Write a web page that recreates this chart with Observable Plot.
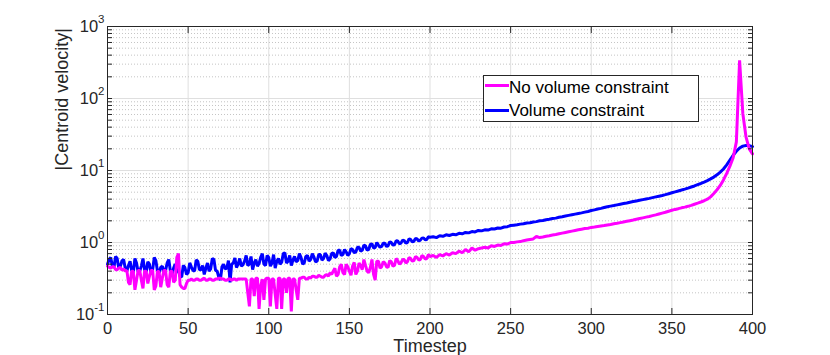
<!DOCTYPE html>
<html>
<head>
<meta charset="utf-8">
<script src="https://cdn.jsdelivr.net/npm/d3@7"></script>
<script src="https://cdn.jsdelivr.net/npm/@observablehq/plot@0.6"></script>
<style>
  body { margin: 0; background: #fff; }
  #wrap { position: relative; width: 830px; height: 355px; font-family: "Liberation Sans", Arial, sans-serif; color: #262626; }
  .legend { position: absolute; left: 483px; top: 75px; width: 214px; height: 45px; border: 1px solid #262626; background: #fff; }
  .swatch { position: absolute; left: 1px; width: 24px; height: 3px; }
  .lbl { position: absolute; left: 25px; font-size: 17px; line-height: 17px; white-space: nowrap; color: #000; }
</style>
</head>
<body>
<div id="wrap"></div>
<script>
// ---- data ----
// timesteps: every step up to 200, every second step afterwards
const timestep = d3.range(0, 201, 1).concat(d3.range(202, 401, 2));

const noVolumeConstraint = [
  // t 0-200 (step 1)
  0.47, 0.45, 0.44, 0.46, 0.46, 0.42, 0.42, 0.44, 0.45, 0.41,
  0.43, 0.40, 0.41, 0.28, 0.26, 0.40, 0.40, 0.22, 0.30, 0.41,
  0.41, 0.30, 0.23, 0.40, 0.40, 0.27, 0.34, 0.41, 0.41, 0.22,
  0.25, 0.40, 0.39, 0.24, 0.32, 0.41, 0.41, 0.26, 0.24, 0.40,
  0.40, 0.28, 0.30, 0.62, 0.70, 0.26, 0.24, 0.23, 0.23, 0.27,
  0.30, 0.30, 0.31, 0.30, 0.30, 0.31, 0.31, 0.30, 0.30, 0.31,
  0.32, 0.30, 0.30, 0.31, 0.31, 0.30, 0.30, 0.31, 0.31, 0.32,
  0.32, 0.31, 0.31, 0.30, 0.30, 0.31, 0.31, 0.30, 0.31, 0.31,
  0.30, 0.31, 0.31, 0.31, 0.31, 0.31, 0.31, 0.20, 0.13, 0.31,
  0.31, 0.18, 0.32, 0.32, 0.12, 0.25, 0.31, 0.16, 0.31, 0.32,
  0.32, 0.13, 0.31, 0.31, 0.19, 0.12, 0.32, 0.32, 0.12, 0.31,
  0.31, 0.20, 0.32, 0.32, 0.11, 0.31, 0.31, 0.22, 0.16, 0.32,
  0.32, 0.33, 0.33, 0.31, 0.31, 0.33, 0.32, 0.34, 0.34, 0.33,
  0.33, 0.35, 0.34, 0.33, 0.33, 0.35, 0.36, 0.34, 0.38, 0.36,
  0.40, 0.44, 0.34, 0.36, 0.46, 0.50, 0.38, 0.36, 0.50, 0.46,
  0.40, 0.35, 0.47, 0.53, 0.36, 0.40, 0.52, 0.48, 0.42, 0.58,
  0.48, 0.40, 0.38, 0.45, 0.58, 0.36, 0.30, 0.55, 0.55, 0.44,
  0.46, 0.54, 0.52, 0.46, 0.45, 0.56, 0.54, 0.47, 0.48, 0.60,
  0.56, 0.50, 0.52, 0.58, 0.58, 0.52, 0.54, 0.62, 0.60, 0.55,
  0.56, 0.64, 0.62, 0.57, 0.58, 0.66, 0.64, 0.59, 0.60, 0.68,
  0.64,
  // t 202-400 (step 2)
  0.66, 0.62, 0.68, 0.65, 0.70, 0.67, 0.72, 0.70, 0.76, 0.72, 0.80, 0.74, 0.84, 0.78, 0.82,
  0.84, 0.86, 0.84, 0.90, 0.88, 0.92, 0.91, 0.96, 0.95, 1.00,
  1.00, 1.02, 1.03, 1.06, 1.08, 1.10, 1.12, 1.22, 1.17, 1.19, 1.22, 1.24, 1.27, 1.29, 1.32, 1.35, 1.38, 1.41, 1.44, 1.47, 1.50, 1.53, 1.56, 1.58, 1.62,
  1.64, 1.67, 1.70, 1.72, 1.75, 1.78, 1.82, 1.85, 1.89, 1.93, 1.97, 2.01, 2.05, 2.10, 2.15, 2.20, 2.25, 2.30, 2.36, 2.42, 2.49, 2.56, 2.63, 2.72, 2.80,
  2.88, 2.95, 3.03, 3.10, 3.18, 3.28, 3.40, 3.52, 3.65, 3.80, 4.00, 4.30, 4.80, 5.40, 6.20, 7.40, 9.10, 11.5, 15.0, 25.0, 340, 62, 29, 20, 17
];

const volumeConstraint = [
  // t 0-200 (step 1)
  0.50, 0.58, 0.62, 0.47, 0.45, 0.64, 0.60, 0.44, 0.47, 0.56,
  0.58, 0.44, 0.40, 0.48, 0.55, 0.41, 0.38, 0.60, 0.52, 0.39,
  0.40, 0.47, 0.60, 0.42, 0.39, 0.54, 0.50, 0.37, 0.42, 0.62,
  0.56, 0.40, 0.38, 0.45, 0.47, 0.39, 0.41, 0.52, 0.58, 0.40,
  0.36, 0.44, 0.50, 0.40, 0.40, 0.34, 0.33, 0.48, 0.45, 0.36,
  0.38, 0.52, 0.46, 0.41, 0.40, 0.57, 0.55, 0.42, 0.42, 0.48,
  0.36, 0.44, 0.52, 0.40, 0.43, 0.60, 0.58, 0.41, 0.40, 0.33,
  0.30, 0.46, 0.50, 0.43, 0.44, 0.56, 0.28, 0.50, 0.52, 0.61,
  0.45, 0.50, 0.60, 0.47, 0.49, 0.55, 0.66, 0.48, 0.50, 0.64,
  0.42, 0.52, 0.58, 0.47, 0.51, 0.62, 0.70, 0.50, 0.48, 0.66,
  0.62, 0.47, 0.52, 0.68, 0.44, 0.55, 0.60, 0.50, 0.53, 0.70,
  0.72, 0.52, 0.55, 0.66, 0.48, 0.57, 0.64, 0.54, 0.56, 0.70,
  0.62, 0.50, 0.52, 0.64, 0.66, 0.55, 0.58, 0.70, 0.63, 0.54,
  0.55, 0.68, 0.68, 0.57, 0.60, 0.71, 0.66, 0.56, 0.59, 0.70,
  0.72, 0.62, 0.64, 0.78, 0.78, 0.66, 0.68, 0.80, 0.74, 0.66,
  0.70, 0.82, 0.80, 0.72, 0.74, 0.86, 0.86, 0.76, 0.78, 0.92,
  0.90, 0.78, 0.80, 0.94, 0.96, 0.84, 0.85, 1.00, 0.92, 0.86,
  0.88, 0.98, 0.98, 0.88, 0.90, 1.02, 1.00, 0.92, 0.93, 1.06,
  1.05, 0.96, 0.98, 1.08, 1.06, 0.98, 1.00, 1.12, 1.10, 1.02,
  1.04, 1.14, 1.12, 1.05, 1.08, 1.15, 1.16, 1.09, 1.10, 1.20,
  1.18,
  // t 202-400 (step 2)
  1.20, 1.17, 1.24, 1.22, 1.28, 1.25, 1.30, 1.28, 1.34, 1.32, 1.38, 1.36, 1.42, 1.40, 1.47, 1.45, 1.50, 1.49, 1.55, 1.54, 1.59, 1.58, 1.64, 1.66, 1.72,
  1.74, 1.76, 1.80, 1.82, 1.87, 1.88, 1.93, 1.95, 2.00, 2.02, 2.07, 2.10, 2.15, 2.18, 2.24, 2.28, 2.33, 2.38, 2.43, 2.48, 2.53, 2.58, 2.64, 2.70, 2.78,
  2.84, 2.92, 2.98, 3.06, 3.13, 3.20, 3.26, 3.33, 3.40, 3.47, 3.54, 3.62, 3.70, 3.78, 3.86, 3.94, 4.02, 4.10, 4.20, 4.30, 4.40, 4.50, 4.62, 4.75, 4.90,
  5.05, 5.20, 5.35, 5.52, 5.70, 5.90, 6.10, 6.35, 6.60, 6.90, 7.25, 7.65, 8.10, 8.70, 9.50, 10.5, 12.0, 14.0, 16.3, 18.5, 20.5, 21.8, 22.3, 22.2, 21.5
];

const seriesNames = ["No volume constraint", "Volume constraint"];
const seriesColors = ["#ff00ff", "#0000ff"];
const xTicks = [0, 50, 100, 150, 200, 250, 300, 350, 400];
const yDecades = [0.1, 1, 10, 100, 1000];
const yExponents = ["-1", "0", "1", "2", "3"];
const xLabel = "Timestep";
const yLabel = "|Centroid velocity|";

// minor log ticks (2..9 in each decade)
const yMinor = [];
yDecades.slice(0, -1).forEach(d => { for (let k = 2; k <= 9; k++) yMinor.push(d * k); });

const rowsNo = timestep.map((t, i) => ({t, v: noVolumeConstraint[i]}));
const rowsVol = timestep.map((t, i) => ({t, v: volumeConstraint[i]}));

const axisColor = "#262626";

const chart = Plot.plot({
  width: 830,
  height: 355,
  marginLeft: 107,
  marginRight: 78,
  marginTop: 26,
  marginBottom: 41,
  style: {fontFamily: "'Liberation Sans', Arial, sans-serif", fontSize: "16.5px", color: axisColor, background: "white", overflow: "visible"},
  x: {domain: [0, 400]},
  y: {type: "log", domain: [0.1, 1000]},
  marks: [
    Plot.gridX(xTicks, {stroke: "#dfdfdf", strokeOpacity: 1}),
    Plot.gridY(yMinor, {stroke: "#c4c4c4", strokeOpacity: 1, strokeDasharray: "1,2"}),
    Plot.gridY(yDecades, {stroke: "#dfdfdf", strokeOpacity: 1}),
    Plot.line(rowsVol, {x: "t", y: "v", stroke: seriesColors[1], strokeWidth: 3, strokeLinejoin: "miter"}),
    Plot.line(rowsNo, {x: "t", y: "v", stroke: seriesColors[0], strokeWidth: 3, strokeLinejoin: "miter"}),
    // tick labels
    Plot.axisX(xTicks, {anchor: "bottom", tickSize: 0, tickPadding: 8, tickFormat: d => String(d), label: null}),
    Plot.axisY(yDecades, {anchor: "left", tickSize: 0, tickPadding: 3, tickFormat: d => "10^" + yExponents[yDecades.indexOf(d)], label: null}),
    // inward ticks
    Plot.axisX(xTicks, {anchor: "bottom", tickSize: 6, dy: -6, tickFormat: () => "", label: null, stroke: axisColor}),
    Plot.axisX(xTicks, {anchor: "top", tickSize: 6, dy: 6, tickFormat: () => "", label: null, stroke: axisColor}),
    Plot.axisY(yDecades.concat(yMinor), {anchor: "left", tickSize: 5, dx: 5, tickFormat: () => "", label: null, stroke: axisColor}),
    Plot.axisY(yDecades.concat(yMinor), {anchor: "right", tickSize: 5, dx: -5, tickFormat: () => "", label: null, stroke: axisColor}),
    Plot.frame({stroke: axisColor}),
    // axis titles
    Plot.text([xLabel], {frameAnchor: "bottom", lineAnchor: "middle", dy: 31.5, text: d => d, fontSize: 18, fill: axisColor}),
    Plot.text([yLabel], {frameAnchor: "left", lineAnchor: "middle", dx: -45, rotate: -90, text: d => d, fontSize: 18, fill: axisColor})
  ]
});

// superscript exponents on y tick labels
const ns = "http://www.w3.org/2000/svg";
chart.querySelectorAll("text").forEach(t => {
  const s = t.textContent;
  if (/^10\^/.test(s)) {
    const [b, e] = s.split("^");
    t.textContent = "";
    const t1 = document.createElementNS(ns, "tspan");
    t1.textContent = b;
    const t2 = document.createElementNS(ns, "tspan");
    t2.textContent = e;
    t2.setAttribute("dy", "-8.5");
    t2.setAttribute("font-size", "11.5px");
    t.append(t1, t2);
  }
});

const wrap = document.getElementById("wrap");
wrap.appendChild(chart);

// legend (inside the axes, as in the original)
const legend = document.createElement("div");
legend.className = "legend";
seriesNames.forEach((name, i) => {
  const sw = document.createElement("div");
  sw.className = "swatch";
  sw.style.background = seriesColors[i];
  sw.style.top = (7.5 + i * 25) + "px";
  const lb = document.createElement("div");
  lb.className = "lbl";
  lb.style.top = (3 + i * 23) + "px";
  lb.textContent = name;
  legend.append(sw, lb);
});
wrap.appendChild(legend);
</script>
</body>
</html>
